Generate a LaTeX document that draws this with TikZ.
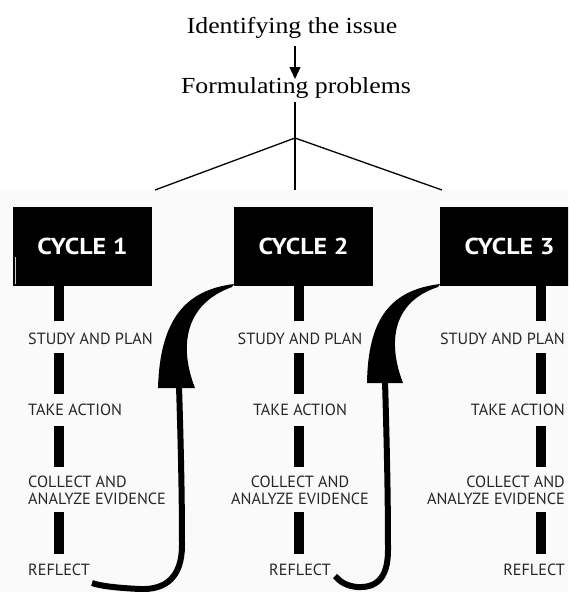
\documentclass[tikz,border=0pt]{standalone}
\usepackage{fontspec}
\setmainfont{Liberation Serif}
\newfontfamily\stepfont{PT Sans}
\usetikzlibrary{arrows.meta}
\definecolor{steptext}{HTML}{262626}
\begin{document}
\begin{tikzpicture}[x=1pt,y=-1pt,
  thinline/.style={line width=1.3pt},
  cyclebox/.style={fill=black, minimum width=139pt, minimum height=79pt, inner sep=0pt,
    text=white, font=\stepfont\bfseries\fontsize{23}{25}\selectfont},
  steplabel/.style={text=steptext, font=\stepfont\fontsize{16.2}{17}\selectfont, inner sep=0pt},
  stembar/.style={line width=10pt, line cap=butt},
  swoosh/.style={fill=black},
  shaft/.style={line width=6pt, line cap=butt},
  title/.style={font=\fontsize{23}{26}\selectfont, inner sep=0pt}]
\useasboundingbox (0,0) rectangle (568,592);
\fill[white] (0,0) rectangle (568,592);
\fill[black!2] (0,190) rectangle (568,592);

% titles
\node[title, anchor=base] (issue) at (292,33) {\scalebox{1.12}[1]{Identifying the issue}};
\node[title, anchor=base] (formulate) at (296,93) {\scalebox{1.12}[1]{Formulating problems}};
\coordinate (arrtop) at (295,46);
\coordinate (arrbot) at (295,79);
\draw[thinline,-{Triangle[length=12pt,width=11pt]}] (arrtop) -- (arrbot);

% branching
\coordinate (stemtop) at (295,102);
\coordinate (apex) at (295,138);
\coordinate (b1) at (155,190);
\coordinate (b2) at (295,190);
\coordinate (b3) at (442,190);
\draw[thinline] (stemtop) -- (b2);
\draw[thinline] (b1) -- (apex) -- (b3);

% cycle boxes
\node[cyclebox] (c1) at (82.5,246.5) {\scalebox{1.13}[1]{CYCLE 1}};
\node[cyclebox] (c2) at (303.5,246.5) {\scalebox{1.13}[1]{CYCLE 2}};
\begin{scope}
\clip (0,0) rectangle (568,592);
\node[cyclebox] (c3) at (509.5,246.5) {\scalebox{1.13}[1]{CYCLE 3}};
\end{scope}
\draw[white!80!black, line width=0.8pt] (15,257) -- (15,284);

% column 1
\node[steplabel, anchor=west] (s1) at (28,339) {STUDY AND PLAN};
\node[steplabel, anchor=west] (t1) at (28,410) {TAKE ACTION};
\node[steplabel, anchor=west, align=left] (e1) at (28,490) {COLLECT AND\\ANALYZE EVIDENCE};
\node[steplabel, anchor=west] (r1) at (28,570) {REFLECT};
% column 2
\node[steplabel] (s2) at (300,339) {STUDY AND PLAN};
\node[steplabel] (t2) at (300,410) {TAKE ACTION};
\node[steplabel, align=center] (e2) at (300,490) {COLLECT AND\\ANALYZE EVIDENCE};
\node[steplabel] (r2) at (300,570) {REFLECT};
% column 3
\node[steplabel, anchor=east] (s3) at (565,339) {STUDY AND PLAN};
\node[steplabel, anchor=east] (t3) at (565,410) {TAKE ACTION};
\node[steplabel, anchor=east, align=right] (e3) at (565,490) {COLLECT AND\\ANALYZE EVIDENCE};
\node[steplabel, anchor=east] (r3) at (565,570) {REFLECT};

% stem bars
\foreach \x in {59,299,541}{
  \draw[stembar] (\x,286) -- (\x,321);
  \draw[stembar] (\x,353) -- (\x,394);
  \draw[stembar] (\x,426) -- (\x,467);
  \draw[stembar] (\x,512) -- (\x,554);
}

% return arrow 1 (reflect 1 -> cycle 2)
\coordinate (tail1) at (92,583);
\coordinate (base1) at (179,386);
\fill[swoosh] (234,284) .. controls (185,290) and (160,320) .. (158,388) -- (195,388)
  .. controls (180,350) and (182,305) .. (232,287) -- cycle;
\draw[shaft] (tail1) .. controls (100,586) and (118,588) .. (140,589)
  .. controls (165,590) and (182,578) .. (182,545)
  .. controls (182,500) and (181,450) .. (base1);

% return arrow 2 (reflect 2 -> cycle 3)
\coordinate (tail2) at (335,576);
\coordinate (base2) at (385,381);
\fill[swoosh] (440,284) .. controls (391,290) and (368,318) .. (367,383) -- (403,383)
  .. controls (389,347) and (389,303) .. (438,287) -- cycle;
\draw[shaft] (tail2) .. controls (340,582) and (347,586) .. (357,587)
  .. controls (375,588) and (388,580) .. (388,550)
  .. controls (388,500) and (387,450) .. (base2);
\end{tikzpicture}
\end{document}
